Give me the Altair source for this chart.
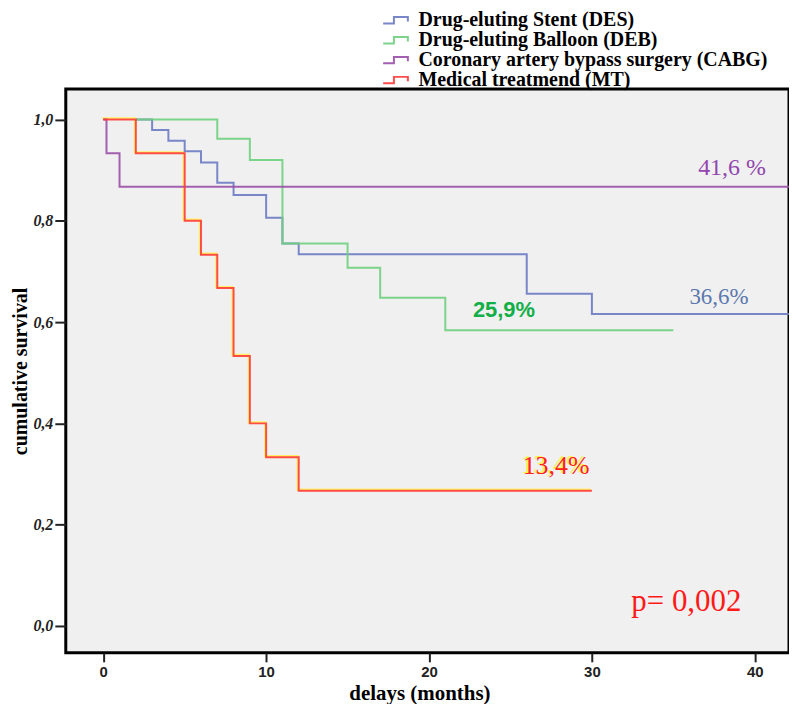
import altair as alt
import pandas as pd

# ---------------- data ----------------
series_names = [
    "Drug-eluting Stent (DES)",
    "Drug-eluting Balloon (DEB)",
    "Coronary artery bypass surgery (CABG)",
    "Medical treatmend (MT)",
]
series_colors = ["#6b7bc4", "#6fcf7e", "#9a4fa8", "#ff3a3a"]

des_t = [2, 3, 4, 5, 6, 7, 8, 10, 11, 12, 26, 30, 43]
des_s = [1.0, 0.979, 0.958, 0.937, 0.915, 0.875, 0.851, 0.806, 0.755, 0.734, 0.656, 0.616, 0.616]

deb_t = [2, 7, 9, 11, 15, 17, 21, 35]
deb_s = [1.0, 0.962, 0.920, 0.755, 0.707, 0.648, 0.584, 0.584]

cabg_t = [0, 0.2, 1, 43]
cabg_s = [1.0, 0.933, 0.867, 0.867]

mt_t = [0, 2, 5, 6, 7, 8, 9, 10, 12, 30]
mt_s = [1.0, 0.933, 0.8, 0.733, 0.667, 0.533, 0.4, 0.333, 0.267, 0.267]

x_ticks = [0, 10, 20, 30, 40]
y_ticks = [0.0, 0.2, 0.4, 0.6, 0.8, 1.0]

# annotations: text, month, survival
ann_cabg = ("41,6 %", 38.6, 0.905)
ann_des = ("36,6%", 37.8, 0.649)
ann_deb = ("25,9%", 24.6, 0.623)
ann_mt = ("13,4%", 27.8, 0.315)
ann_p = ("p= 0,002", 35.8, 0.047)

# ---------------- build tables ----------------
rows = []
for name, ts, ss in zip(series_names, [des_t, deb_t, cabg_t, mt_t], [des_s, deb_s, cabg_s, mt_s]):
    for t, s in zip(ts, ss):
        rows.append({"group": name, "t": t, "s": s})
df = pd.DataFrame(rows)
df_mt = df[df["group"] == series_names[3]]

x_scale = alt.Scale(domain=[-2.3, 42.1], nice=False, zero=False)
y_scale = alt.Scale(domain=[-0.053, 1.06], nice=False, zero=False)

x_axis = alt.Axis(
    values=x_ticks, title="delays (months)", grid=False, domain=False,
    tickColor="#222", tickWidth=2, tickSize=9, labelPadding=3,
    labelFont="Liberation Sans", labelFontWeight="bold", labelFontSize=15, labelColor="#222",
    titleFont="Liberation Serif", titleFontWeight="bold", titleFontSize=21, titleColor="black",
    titlePadding=3, titleX=355,
)
y_axis = alt.Axis(
    values=y_ticks, title="cumulative survival", grid=False, domain=False,
    labelExpr="replace(format(datum.value, '.1f'), '.', ',')",
    tickColor="#222", tickWidth=2, tickSize=11, labelPadding=2,
    labelFont="Liberation Serif", labelFontWeight="bold", labelFontStyle="italic",
    labelFontSize=16, labelColor="#222",
    titleFont="Liberation Serif", titleFontWeight="bold", titleFontSize=20, titleColor="black",
    titleX=-35, titleY=283,
)

X = alt.X("t:Q", scale=x_scale, axis=x_axis)
Y = alt.Y("s:Q", scale=y_scale, axis=y_axis)

step_path = "M-1.55,0.4H-0.2V-0.4H1.55V0.15"

yellow = alt.Chart(df_mt).mark_line(
    interpolate="step-after", color="#fff06a", strokeWidth=2.4, xOffset=-1, yOffset=-1, clip=True
).encode(x=X, y=Y)

lines = alt.Chart(df).mark_line(interpolate="step-after", clip=True, opacity=0.9).encode(
    x=X, y=Y,
    color=alt.Color(
        "group:N",
        scale=alt.Scale(domain=series_names, range=series_colors),
        sort=series_names,
        legend=alt.Legend(
            title=None, orient="none", legendX=321, legendY=-79,
            symbolType=step_path, symbolSize=256, symbolStrokeWidth=2,
            labelFont="Liberation Serif", labelFontWeight="bold", labelFontSize=20,
            labelColor="black", labelOffset=13, rowPadding=0, labelLimit=500,
        ),
    ),
    strokeWidth=alt.StrokeWidth(
        "group:N", scale=alt.Scale(domain=series_names, range=[2, 2, 2, 1.4]), legend=None
    ),
    detail="group:N",
)


def text_layer(ann, color, size, font="Liberation Serif", weight="normal", dx=0, dy=0):
    d = pd.DataFrame([{"label": ann[0], "t": ann[1], "s": ann[2]}])
    return alt.Chart(d).mark_text(
        color=color, fontSize=size, font=font, fontWeight=weight,
        align="center", baseline="middle", dx=dx, dy=dy,
    ).encode(
        x=alt.X("t:Q", scale=x_scale, axis=x_axis),
        y=alt.Y("s:Q", scale=y_scale, axis=y_axis),
        text="label:N",
    )


t_cabg = text_layer(ann_cabg, "#9246ae", 24)
t_des = text_layer(ann_des, "#5b78ae", 23)
t_deb = text_layer(ann_deb, "#12ae48", 22, font="Liberation Sans", weight="bold")
t_mt_y = text_layer(ann_mt, "#fff34a", 26, dx=-2, dy=-1)
t_mt = text_layer(ann_mt, "#ff2020", 26)
t_p = text_layer(ann_p, "#ff1a1a", 31)

chart = alt.layer(
    yellow, lines, t_cabg, t_des, t_deb, t_mt_y, t_mt, t_p
).properties(
    width=726, height=566,
    padding={"left": 58, "top": 80, "right": 0, "bottom": 50},
    autosize=alt.AutoSizeParams(type="none"),
    background="white",
).configure_view(
    fill="#f0f0f0", stroke="black", strokeWidth=3,
)

chart.save("out.html", embed_options={"renderer": "svg", "actions": False})
